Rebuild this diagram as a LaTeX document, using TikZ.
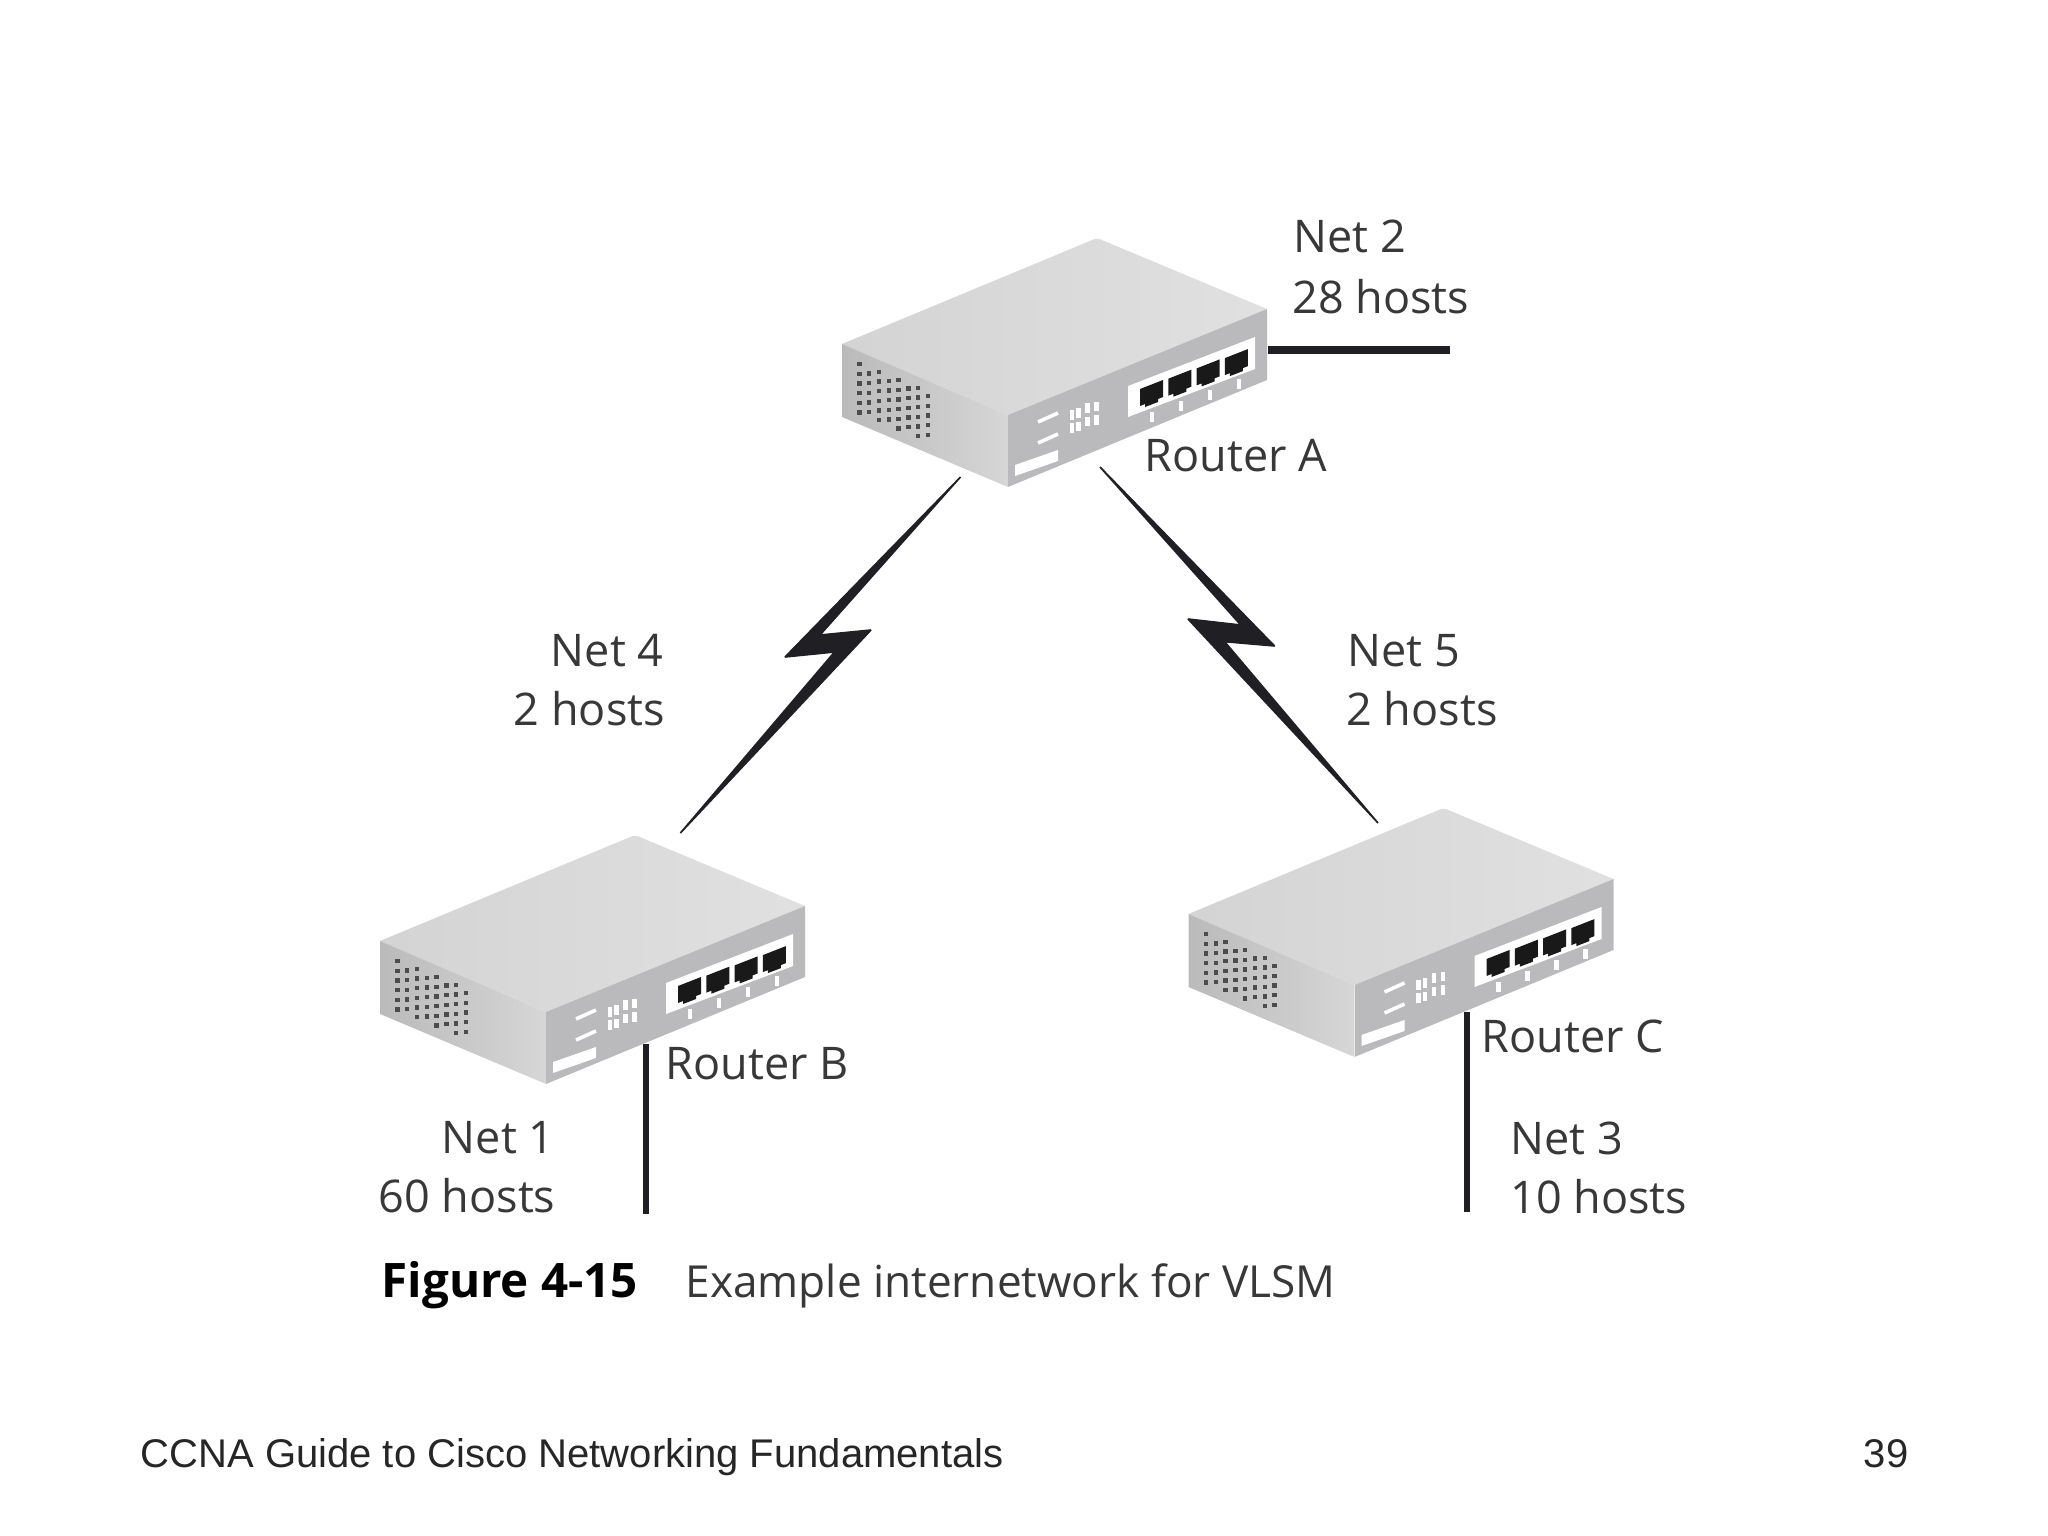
\documentclass[tikz,border=0pt]{standalone}
\usepackage{fontspec}
\setmainfont{Open Sans}
\newfontfamily\footerfont{Liberation Sans}
\definecolor{routertop}{rgb}{0.83,0.83,0.83}
\definecolor{routertoplight}{rgb}{0.88,0.88,0.88}
\definecolor{routerfront}{rgb}{0.73,0.73,0.74}
\definecolor{routerside}{rgb}{0.73,0.73,0.73}
\definecolor{routersidelight}{rgb}{0.84,0.84,0.84}
\definecolor{labeltext}{rgb}{0.22,0.22,0.22}
\definecolor{wire}{rgb}{0.12,0.12,0.14}
\tikzset{
  netlabel/.style={inner sep=0pt, text=labeltext, font=\fontsize{16}{19}\selectfont},
  netline/.style={draw=wire, line width=0.075cm},
  bolt/.style={fill=wire, draw=wire, line width=0.02cm, line join=bevel},
  pics/router/.style={code={
    % Faces
    \shade[left color=routertop, right color=routertoplight] (0,0) [rounded corners=1.2pt] -- (255,-106) [sharp corners] -- (425,-35) -- (166,71) -- cycle;
    \shade[left color=routerside, right color=routersidelight] (0,0) -- (166,71) -- (166,143) -- (0,73) -- cycle;
    \fill[routerfront] (166,71) -- (425,-35) -- (425,36) -- (166,143) -- cycle;

    % Vents
    \foreach \c/\y/\n in {0/20/5,1/29.3/4,2/27.7/5,3/36.7/4,4/36/5,5/44.3/4,6/43.7/5,7/52/4}
      \foreach \r in {0,...,\n}
        \fill[black!70] ({15.2+9.8*\c},{\y-2.2+9.7*\r}) rectangle ++(4.4,4.4);

    % Front panel
    \draw[white, line width=0.045cm] (196,78) -- (216,69);
    \draw[white, line width=0.045cm] (196,99) -- (216,90);
    \fill[white] (173,121) -- (216,106) -- (216,117) -- (173,132) -- cycle;
    \foreach \x/\y in {230/66,230/79,236.5/64,236.5/77.5,245.5/59,245.5/72.5,254.5/57.5,254.5/71}
      \fill[white] (\x-2.2,\y) rectangle ++(4.4,9.5);

    % Ports
    \fill[white] (286,42) -- (413,-7) -- (413,25) -- (286,73) -- cycle;
    \foreach \i in {0,...,3} {
      \begin{scope}[shift={({298+28.3*\i},{45-10.3*\i})}]
        \fill[black!90] (0,0) -- (23,-9) -- (23,8) -- (18,10) -- (18,13) -- (5,18) -- (5,15) -- (0,17) -- cycle;
      \end{scope}
      \fill[white] ({307.5+29*\i},{68-11*\i}) rectangle ++(4.5,10);
    }
  }}
}

\begin{document}
\begin{tikzpicture}[x=0.0125cm,y=-0.0125cm]
  \useasboundingbox (0,0) rectangle (2048,1536);

  % Routers
  \pic (routerA) at (842,344) {router};
  \pic (routerB) at (380,941) {router};
  \pic (routerC) at (1188.5,914) {router};

  % Net 2
  \coordinate (netTwoStart) at (1268,350);
  \coordinate (netTwoEnd) at (1450,350);
  \draw[netline, line width=0.1cm] (netTwoStart) -- (netTwoEnd);

  % Net 1
  \coordinate (netOneStart) at (646,1044);
  \coordinate (netOneEnd) at (646,1214);
  \draw[netline] (netOneStart) -- (netOneEnd);

  % Net 3
  \coordinate (netThreeStart) at (1467,1012);
  \coordinate (netThreeEnd) at (1467,1212);
  \draw[netline] (netThreeStart) -- (netThreeEnd);

  % Net 4
  \coordinate (netFourTop) at (960.5,477);
  \coordinate (netFourBottom) at (680.4,833);
  \fill[bolt] (netFourTop) -- (820,635) -- (871,630) -- (netFourBottom) -- (834.5,652) -- (785,657) -- cycle;

  % Net 5
  \coordinate (netFiveTop) at (1100,467);
  \coordinate (netFiveBottom) at (1378,823);
  \fill[bolt] (netFiveTop) -- (1274.6,646) -- (1224.7,641.7) -- (netFiveBottom) -- (1188,619) -- (1240.7,625) -- cycle;

  % Labels
  \node[netlabel, anchor=base west] (netTwoName) at (1293,252) {Net 2};
  \node[netlabel, anchor=base west] (netTwoHosts) at (1292,313) {28 hosts};
  \node[netlabel, anchor=base west] (routerAName) at (1144,471) {Router A};

  \node[netlabel, anchor=base east] (netFourName) at (664,666) {Net 4};
  \node[netlabel, anchor=base east] (netFourHosts) at (665.5,725) {2 hosts};
  \node[netlabel, anchor=base west] (netFiveName) at (1347,666) {Net 5};
  \node[netlabel, anchor=base west] (netFiveHosts) at (1346,725) {2 hosts};

  \node[netlabel, anchor=base west] (routerBName) at (665,1079) {Router B};
  \node[netlabel, anchor=base east] (netOneName) at (555,1153) {Net 1};
  \node[netlabel, anchor=base east] (netOneHosts) at (556,1212) {60 hosts};

  \node[netlabel, anchor=base west] (routerCName) at (1481,1052) {Router C};
  \node[netlabel, anchor=base west] (netThreeName) at (1510,1154) {Net 3};
  \node[netlabel, anchor=base west] (netThreeHosts) at (1510,1213) {10 hosts};

  % Caption
  \node[inner sep=0pt, anchor=base west, font=\bfseries\fontsize{16.9}{20}\selectfont, text=black] (figureNumber) at (381,1297) {Figure 4-15};
  \node[netlabel, anchor=base west, font=\fontsize{15.7}{18}\selectfont] (figureTitle) at (685,1297) {Example internetwork for VLSM};

  % Footer
  \node[inner sep=0pt, anchor=base west, font=\footerfont\fontsize{14.23}{17}\selectfont, text=black!85] (footerTitle) at (140,1467) {CCNA Guide to Cisco Networking Fundamentals};
  \node[inner sep=0pt, anchor=base east, font=\footerfont\fontsize{14.23}{17}\selectfont, text=black!85] (footerPage) at (1909,1467) {39};

\end{tikzpicture}
\end{document}
